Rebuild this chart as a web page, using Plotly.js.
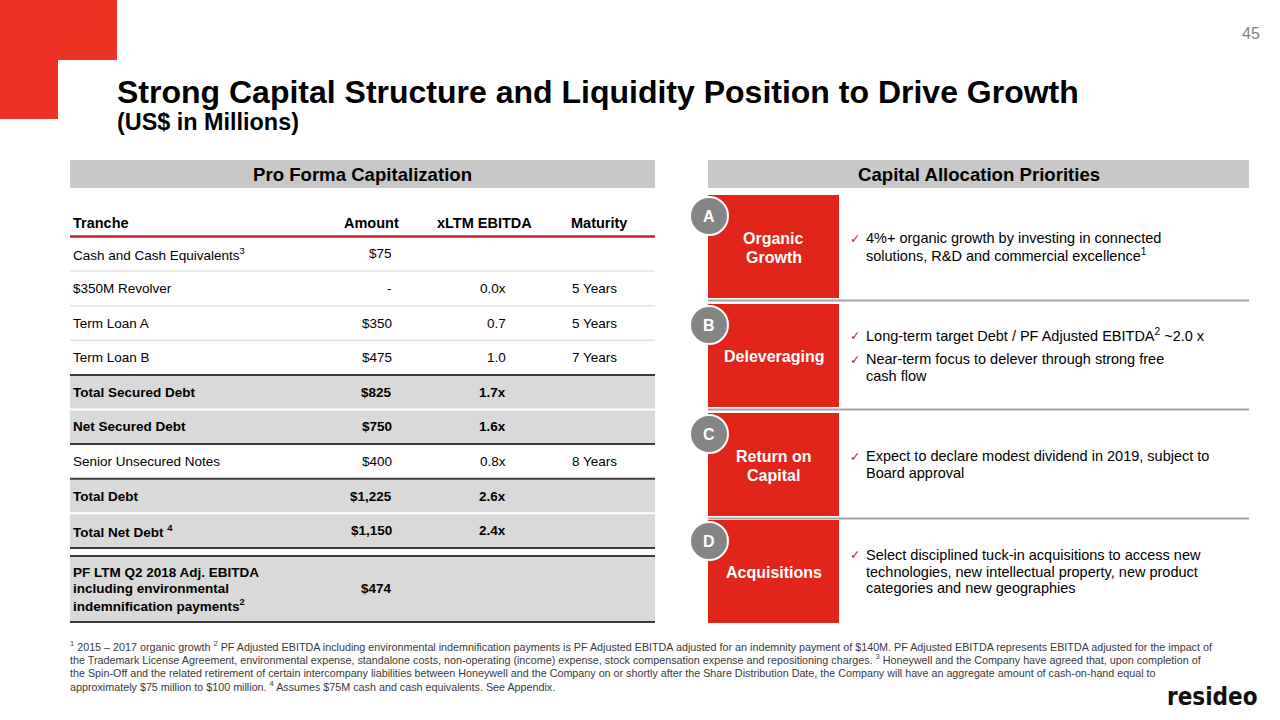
<!DOCTYPE html>
<html>
<head>
<meta charset="utf-8">
<script src="https://cdn.plot.ly/plotly-3.0.1.min.js"></script>
<style>html,body{margin:0;padding:0;background:#fff;}#chart{width:1280px;height:720px;}</style>
</head>
<body>
<div id="chart"></div>
<script>
// ---------- DATA ----------
const slideTitle = "Strong Capital Structure and Liquidity Position to Drive Growth";
const slideSubtitle = "(US$ in Millions)";
const pageNumber = "45";
const leftHeader = "Pro Forma Capitalization";
const rightHeader = "Capital Allocation Priorities";

const tableHeaders = ["Tranche", "Amount", "xLTM EBITDA", "Maturity"];
const tranches = [
  "Cash and Cash Equivalents<sup>3</sup>",
  "$350M Revolver",
  "Term Loan A",
  "Term Loan B",
  "Total Secured Debt",
  "Net Secured Debt",
  "Senior Unsecured Notes",
  "Total Debt",
  "Total Net Debt <sup>4</sup>",
  "PF LTM Q2 2018 Adj. EBITDA<br>including environmental<br>indemnification payments<sup>2</sup>"
];
const amounts = ["$75", "-", "$350", "$475", "$825", "$750", "$400", "$1,225", "$1,150", "$474"];
const multiples = ["", "0.0x", "0.7", "1.0", "1.7x", "1.6x", "0.8x", "2.6x", "2.4x", ""];
const maturities = ["", "5 Years", "5 Years", "7 Years", "", "", "8 Years", "", "", ""];
const summaryRows = ["Total Secured Debt", "Net Secured Debt", "Total Debt", "Total Net Debt <sup>4</sup>",
  "PF LTM Q2 2018 Adj. EBITDA<br>including environmental<br>indemnification payments<sup>2</sup>"];

const priorityLetters = ["A", "B", "C", "D"];
const priorityNames = ["Organic<br>Growth", "Deleveraging", "Return on<br>Capital", "Acquisitions"];
const priorityBullets = [
  ["4%+ organic growth by investing in connected<br>solutions, R&amp;D and commercial excellence<sup>1</sup>"],
  ["Long-term target Debt / PF Adjusted EBITDA<sup>2</sup> ~2.0 x",
   "Near-term focus to delever through strong free<br>cash flow"],
  ["Expect to declare modest dividend in 2019, subject to<br>Board approval"],
  ["Select disciplined tuck-in acquisitions to access new<br>technologies, new intellectual property, new product<br>categories and new geographies"]
];

const footnoteLines = [
  "<sup>1</sup> 2015 – 2017 organic growth <sup>2</sup> PF Adjusted EBITDA including environmental indemnification payments is PF Adjusted EBITDA adjusted for an indemnity payment of $140M. PF Adjusted EBITDA represents EBITDA adjusted for the impact of",
  "the Trademark License Agreement, environmental expense, standalone costs, non-operating (income) expense, stock compensation expense and repositioning charges. <sup>3</sup> Honeywell and the Company have agreed that, upon completion of",
  "the Spin-Off and the related retirement of certain intercompany liabilities between Honeywell and the Company on or shortly after the Share Distribution Date, the Company will have an aggregate amount of cash-on-hand equal to",
  "approximately $75 million to $100 million. <sup>4</sup> Assumes $75M cash and cash equivalents. See Appendix."
];
const logoText = "resideo";

// ---------- STYLE / LAYOUT ----------
const FONT = "Liberation Sans, Arial, sans-serif";
const RED = "#E1251B";
const LOGO_RED = "#EE3224";
const shapes = [];
const annotations = [];

function rect(x0, y0, x1, y1, fill, line) {
  shapes.push({type: "rect", xref: "x", yref: "y", x0, y0, x1, y1, fillcolor: fill,
    line: line || {width: 0}, layer: "below"});
}
function hline(x0, x1, y, color, width) {
  shapes.push({type: "line", xref: "x", yref: "y", x0, x1, y0: y, y1: y, line: {color, width}});
}
function txt(x, y, text, o) {
  o = o || {};
  annotations.push({xref: "x", yref: "y", x, y, text, showarrow: false,
    xanchor: o.xa || "left", yanchor: o.ya || "middle", align: o.xa || "left",
    font: {family: o.family || FONT, size: o.size || 14, color: o.color || "#000", weight: o.bold ? "bold" : "normal"}});
}
function multiline(x, yCenter, text, lh, o) {
  const lines = text.split("<br>");
  const y0 = yCenter - (lines.length - 1) * lh / 2;
  lines.forEach((l, i) => txt(x, y0 + i * lh, l, o));
}

// logo corner
rect(0, 0, 117, 60, LOGO_RED);
rect(0, 60, 58, 119, LOGO_RED);

// page number & titles
txt(1251, 33, pageNumber, {xa: "center", size: 16, color: "#7F7F7F"});
txt(115, 92, slideTitle, {size: 32, bold: true});
txt(115, 122, slideSubtitle, {size: 23.4, bold: true});

// section headers
rect(70, 160, 655, 188, "#C8C8C8");
txt(362.5, 174, leftHeader, {xa: "center", size: 18.6, bold: true});
rect(708, 160, 1249, 188, "#C8C8C8");
txt(978.5, 174, rightHeader, {xa: "center", size: 18.6, bold: true});

// ---------- TABLE ----------
const TX0 = 70, TX1 = 655;
const colX = {name: 71, amount: 394, mult: 508, mat: 570};
const headY = 223, headLine = 236.5, rowH = 34.6, pfGap = 8, pfH = 66;
const TS = 13.5;
txt(colX.name, headY, tableHeaders[0], {size: 14.5, bold: true});
txt(401, headY, tableHeaders[1], {xa: "right", size: 14.5, bold: true});
txt(484, headY, tableHeaders[2], {xa: "center", size: 14.5, bold: true});
txt(629, headY, tableHeaders[3], {xa: "right", size: 14.5, bold: true});

let y = headLine;
const bounds = [];
tranches.forEach((t, i) => {
  const isLast = i === tranches.length - 1;
  const top = isLast ? y + pfGap : y;
  const bot = isLast ? top + pfH : top + rowH;
  bounds.push([top, bot]);
  y = bot;
});
// fills
tranches.forEach((t, i) => {
  const [top, bot] = bounds[i];
  if (summaryRows.includes(t)) rect(TX0, top + 1, TX1, bot - 1, "#D9D9D9");
});
// separators
tranches.forEach((t, i) => {
  const [top, bot] = bounds[i];
  const summary = summaryRows.includes(t);
  const prevSummary = i > 0 && summaryRows.includes(tranches[i - 1]);
  if (i > 0) {
    if (summary !== prevSummary || i === tranches.length - 1) hline(TX0, TX1, top, "#3A3A3A", 2);
    else if (!summary) hline(TX0, TX1, top, "#E3E3E3", 1.5);
  }
  if (i === tranches.length - 1) { hline(TX0, TX1, bounds[i - 1][1], "#3A3A3A", 2); hline(TX0, TX1, bot, "#3A3A3A", 2); }
});
hline(TX0, TX1, headLine, "#C8202A", 2.5);
// texts
tranches.forEach((t, i) => {
  const [top, bot] = bounds[i];
  const cy = (top + bot) / 2;
  const o = {size: TS, bold: summaryRows.includes(t)};
  multiline(colX.name, cy, t, 16, o);
  if (amounts[i]) txt(colX.amount, cy, amounts[i], Object.assign({xa: "right"}, o));
  if (multiples[i]) txt(colX.mult, cy, multiples[i], Object.assign({xa: "right"}, o));
  if (maturities[i]) txt(colX.mat, cy, maturities[i], o);
});

// ---------- PRIORITIES ----------
const boxTops = [195, 304, 413, 520];
const boxH = 103;
const BX0 = 708, BX1 = 839;
priorityLetters.forEach((L, i) => {
  const top = boxTops[i], bot = top + boxH, cy = (top + bot) / 2;
  rect(BX0, top, BX1, bot, RED);
  if (i < priorityLetters.length - 1) hline(BX0, 1249, bot + 2.5, "#A3A3A3", 2);
  multiline((BX0 + BX1) / 2, cy + 1, priorityNames[i], 19,
    {xa: "center", size: 16, color: "#FFFFFF", bold: true});
  // bullets
  const lh = 16.6, gap = 7.4;
  const bl = priorityBullets[i].map(b => b.split("<br>"));
  const nLines = bl.reduce((s, a) => s + a.length, 0);
  const total = nLines * lh + (bl.length - 1) * gap;
  let yy = cy - total / 2 + lh / 2;
  bl.forEach(lines => {
    txt(848, yy, "✓", {size: 12.5, color: "#C0141B", family: "DejaVu Sans, sans-serif"});
    lines.forEach(l => { txt(864, yy, l, {size: 14.5}); yy += lh; });
    yy += gap;
  });
});
// letter circles drawn on top
priorityLetters.forEach((L, i) => {
  const cy = boxTops[i] + 21;
  shapes.push({type: "circle", xref: "x", yref: "y", x0: 690, x1: 728, y0: cy - 19, y1: cy + 19,
    fillcolor: "#858585", line: {color: "#FFFFFF", width: 2}, layer: "above"});
  txt(709, cy, L, {xa: "center", size: 16, color: "#FFFFFF", bold: true});
});

// ---------- FOOTNOTES & LOGO ----------
footnoteLines.forEach((l, i) => txt(68, 646 + i * 13.4, l, {size: 10.75, color: "#3A3A3A"}));
txt(1260, 697, logoText, {xa: "right", size: 24, family: "DejaVu Sans Condensed, DejaVu Sans, sans-serif", color: "#111", bold: true});

const layout = {
  width: 1280, height: 720,
  margin: {l: 0, r: 0, t: 0, b: 0},
  paper_bgcolor: "#FFFFFF", plot_bgcolor: "#FFFFFF",
  xaxis: {range: [0, 1280], visible: false, fixedrange: true},
  yaxis: {range: [720, 0], visible: false, fixedrange: true},
  showlegend: false,
  shapes, annotations
};
Plotly.newPlot("chart", [], layout, {displayModeBar: false, staticPlot: true});
</script>
</body>
</html>
